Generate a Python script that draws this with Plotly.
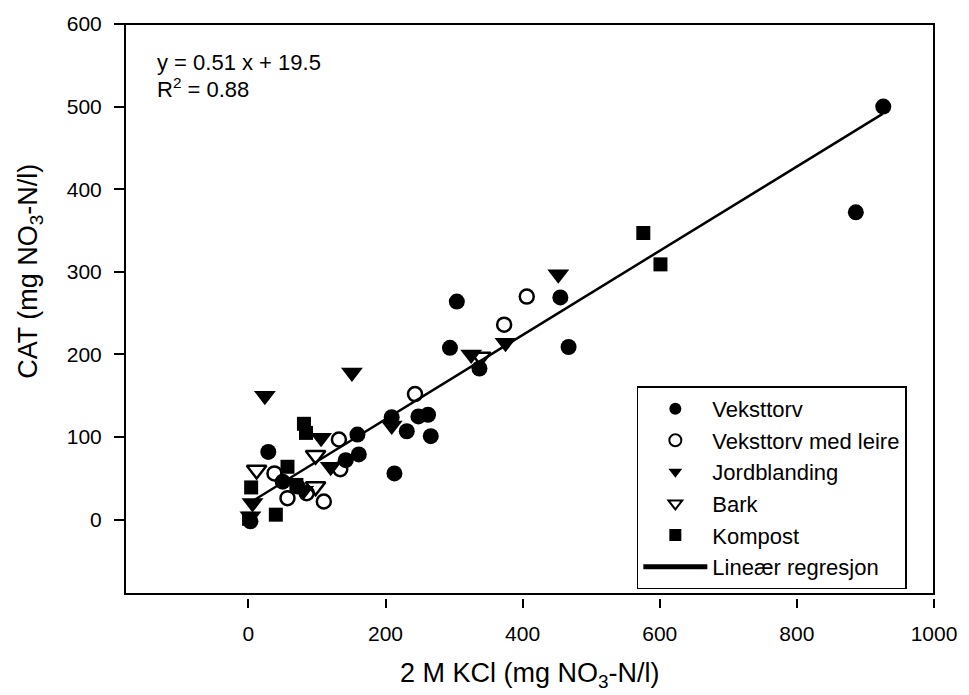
import plotly.graph_objects as go

# ---- data ----
vek_x = [926, 886, 455, 304, 294, 467, 337, 248, 262, 209, 231, 266, 213, 159, 161, 142, 29, 50, 72, 3]
vek_y = [500, 372, 269, 264, 208, 209, 183, 125, 127, 124, 107, 101, 56, 103, 79, 72, 82, 46, 40, -2]

leire_x = [406, 373, 243, 132, 134, 38, 57, 110, 85]
leire_y = [270, 236, 152, 97, 61, 56, 26, 22, 32]

jord_x = [452, 375, 325, 151, 24, 209, 106, 120, 6, 3, 80]
jord_y = [297, 214, 200, 178, 150, 114, 99, 64, 20, 4, 35]

bark_x = [339, 98, 12, 98]
bark_y = [197, 78, 60, 40]

komp_x = [576, 601, 81, 84, 57, 4, 40, 1, 70]
komp_y = [347, 309, 116, 105, 64, 39, 6, 1, 42]

slope = 0.51
intercept = 19.5
line_x = [2, 925]
line_y = [slope * v + intercept for v in line_x]

x_ticks = [0, 200, 400, 600, 800, 1000]
y_ticks = [0, 100, 200, 300, 400, 500, 600]

FONT = "Liberation Sans, Arial, sans-serif"

fig = go.Figure()
fig.add_trace(go.Scatter(x=vek_x, y=vek_y, mode="markers", name="Veksttorv",
                         marker=dict(symbol="circle", size=16, color="black")))
fig.add_trace(go.Scatter(x=leire_x, y=leire_y, mode="markers", name="Veksttorv med leire",
                         marker=dict(symbol="circle-open", size=14, color="black",
                                     line=dict(width=2.5, color="black"))))
fig.add_trace(go.Scatter(x=jord_x, y=jord_y, mode="markers", name="Jordblanding",
                         marker=dict(symbol="triangle-down", size=19, color="black")))
fig.add_trace(go.Scatter(x=bark_x, y=bark_y, mode="markers", name="Bark",
                         marker=dict(symbol="triangle-down-open", size=17, color="black",
                                     line=dict(width=2.5, color="black"))))
fig.add_trace(go.Scatter(x=komp_x, y=komp_y, mode="markers", name="Kompost",
                         marker=dict(symbol="square", size=14, color="black")))
fig.add_trace(go.Scatter(x=line_x, y=line_y, mode="lines", name="Lineær regresjon",
                         showlegend=False, line=dict(color="black", width=2.5)))
fig.add_trace(go.Scatter(x=[None], y=[None], mode="lines", name="Lineær regresjon",
                         line=dict(color="black", width=1.5)))

fig.update_layout(
    width=969, height=695,
    margin=dict(l=125, r=30, t=23, b=97),
    paper_bgcolor="white", plot_bgcolor="white",
    font=dict(family=FONT, size=21, color="black"),
    showlegend=True,
    legend=dict(x=(640 - 125) / 814, y=(598 - 386) / 575, xanchor="left", yanchor="top",
                bordercolor="black", borderwidth=1.5, bgcolor="white",
                font=dict(family=FONT, size=22, color="black"),
                itemsizing="constant", itemwidth=64),
    xaxis=dict(range=[-180, 1000], tickvals=x_ticks, ticks="outside", ticklen=9,
               tickwidth=2, tickcolor="black", showgrid=False, zeroline=False,
               showline=False, anchor="free", position=0,
               tickfont=dict(family=FONT, size=21, color="black"),
               ticklabelstandoff=8),
    yaxis=dict(domain=[0.007, 1], range=[-90, 600], tickvals=y_ticks, ticks="outside",
               ticklen=10, tickwidth=2, tickcolor="black", showgrid=False,
               zeroline=False, showline=False,
               tickfont=dict(family=FONT, size=21, color="black"),
               ticklabelstandoff=8),
)

fig.add_shape(type="rect", xref="x domain", yref="y domain", x0=0, x1=1, y0=0, y1=1,
              line=dict(color="black", width=2), fillcolor="rgba(0,0,0,0)", layer="above")

fig.add_annotation(text="y = 0.51 x + 19.5", xref="x domain", yref="y domain",
                   x=0, y=1, xshift=30, yshift=-38, xanchor="left", yanchor="middle",
                   showarrow=False, font=dict(family=FONT, size=22, color="black"))
fig.add_annotation(text="R<sup>2</sup> = 0.88", xref="x domain", yref="y domain",
                   x=0, y=1, xshift=30, yshift=-64, xanchor="left", yanchor="middle",
                   showarrow=False, font=dict(family=FONT, size=22, color="black"))

fig.add_annotation(text="2 M KCl (mg NO<sub>3</sub>-N/l)", xref="x domain", yref="y domain",
                   x=0.5, y=0, yshift=-81, xanchor="center", yanchor="middle",
                   showarrow=False, font=dict(family=FONT, size=27, color="black"))
fig.add_annotation(text="CAT (mg NO<sub>3</sub>-N/l)", xref="x domain", yref="y",
                   x=0, y=300, xshift=-95, xanchor="center", yanchor="middle",
                   textangle=-90, showarrow=False,
                   font=dict(family=FONT, size=27, color="black"))

fig.write_html("out.html")
